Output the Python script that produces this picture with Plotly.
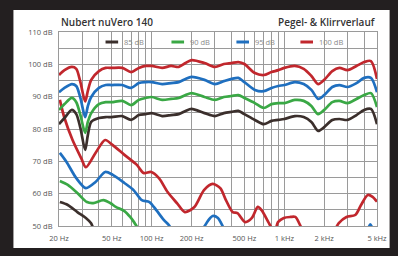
import plotly.graph_objects as go

# ---------------- data ----------------
freq = [20, 22, 25, 27, 29, 31.5, 33, 35, 40, 45, 50, 60, 70, 80, 90, 100, 120, 140, 160, 180,
        200, 250, 300, 350, 400, 450, 500, 600, 700, 800, 900, 1000, 1200, 1400, 1600, 1800,
        2000, 2300, 2600, 3000, 3500, 4000, 4500, 5000]

resp_100 = [96.7, 98.2, 99.2, 98.6, 94.5, 88.5, 91.8, 95.2, 97.9, 98.9, 98.9, 98.9, 97.6, 98.9, 99.5, 99.5, 98.9, 99.5, 99.2, 100.4,
            101.3, 100.4, 99.2, 100.1, 100.4, 100.7, 100.1, 97.3, 96.7, 97.6, 98.2, 98.9, 99.5, 98.6, 96.4, 93.9,
            95.2, 97.9, 98.9, 98.2, 99.5, 100.7, 101.0, 95.5]
resp_95 = [91.4, 92.7, 93.9, 93.3, 89.6, 83.7, 87.1, 89.9, 92.7, 93.6, 93.6, 93.6, 92.7, 94.2, 94.5, 94.5, 93.9, 94.2, 94.5, 95.5,
           96.1, 95.2, 93.9, 94.8, 95.5, 95.8, 94.5, 92.1, 91.7, 92.7, 93.3, 93.6, 94.5, 93.9, 92.1, 89.3,
           90.5, 93.0, 93.6, 93.0, 94.2, 95.8, 95.8, 91.4]
resp_90 = [85.9, 87.7, 89.6, 88.3, 84.3, 78.8, 82.2, 84.9, 87.7, 88.3, 88.3, 88.7, 87.4, 89.0, 89.6, 89.9, 89.0, 89.3, 89.6, 90.5,
           91.1, 89.9, 89.0, 89.9, 90.2, 90.5, 89.6, 88.0, 86.5, 87.7, 88.0, 88.0, 89.0, 88.7, 87.1, 84.6,
           85.9, 88.3, 88.7, 88.0, 89.3, 90.5, 91.1, 86.8]
resp_85 = [81.5, 83.4, 85.9, 84.6, 80.3, 73.5, 78.1, 82.2, 83.4, 83.7, 83.7, 84.0, 82.8, 84.3, 84.6, 84.9, 84.0, 84.3, 84.6, 85.6,
           86.2, 84.9, 84.0, 84.9, 85.3, 85.6, 84.6, 82.8, 81.5, 82.5, 82.8, 83.1, 84.0, 83.7, 82.2, 79.4,
           80.6, 82.8, 83.1, 82.8, 84.3, 85.9, 86.2, 81.5]

dist_100_f = [20.3, 22, 25.3, 29.4, 31.9, 37.7, 44.6, 50.9, 62.3, 77.3, 86.8, 99.2, 113.4, 131.8, 155.6, 177.8,
              210, 248, 288, 329, 363, 408, 443, 507, 570, 631, 674, 758, 797, 852, 896, 992, 1115, 1210,
              1315, 1429, 1800, 2181, 2575, 2944, 3427, 3790, 4262, 4632, 5000]
dist_100 = [89.0, 83.4, 76.6, 71.0, 68.2, 72.6, 76.6, 75.0, 72.0, 68.9, 66.4, 66.7, 64.8, 60.5, 57.0, 54.3,
            55.9, 61.1, 63.0, 61.7, 58.0, 54.3, 54.0, 51.2, 52.5, 55.9, 54.9, 51.2, 49.7, 48.8, 51.2, 52.5, 52.8, 52.8,
            50.3, 47.2, 44.0, 45.7, 50.9, 52.8, 53.4, 56.5, 59.6, 59.0, 57.5]

dist_95_f = [20.3, 22.8, 27.0, 31.9, 37.7, 44.6, 50.9, 62.3, 73.0, 84.2, 96.2, 108.3, 123.8, 134.7, 146.5,
             190, 230, 248, 268, 288, 316, 337, 361, 450, 1000, 3000, 4200, 4450, 4700]
dist_95 = [72.6, 69.8, 64.8, 61.7, 63.6, 66.7, 65.8, 63.3, 61.1, 58.0, 57.4, 54.9, 51.8, 50.3, 48.1,
           45.0, 48.1, 49.7, 51.8, 53.1, 52.5, 50.6, 48.1, 44.0, 42.0, 44.0, 48.5, 50.5, 48.5]

dist_90_f = [20.3, 23.3, 27.5, 32.5, 36.3, 43.2, 48.7, 53.6, 62.3, 68.8, 73.6, 80.1, 90]
dist_90 = [63.9, 62.7, 60.2, 57.4, 57.1, 58.0, 57.1, 55.9, 54.6, 52.8, 51.2, 48.8, 46.0]

dist_85_f = [20.3, 23.3, 27.5, 31.9, 34.8, 36.3, 40]
dist_85 = [57.4, 56.5, 54.3, 52.5, 50.9, 49.4, 47.0]

legend_names = ["85 dB", "90 dB", "95 dB", "100 dB"]
colors = ["#3b2f2c", "#3aa845", "#1f6fbf", "#c1272d"]

x_grid = [20, 30, 40, 50, 60, 70, 80, 90, 100, 200, 300, 400, 500, 600, 700, 800, 900,
          1000, 2000, 3000, 4000, 5000]
x_labels = {20: "20 Hz", 50: "50 Hz", 100: "100 Hz", 200: "200 Hz", 500: "500 Hz",
            1000: "1 kHz", 2000: "2 kHz", 5000: "5 kHz"}
y_grid = [50, 55, 60, 65, 70, 75, 80, 85, 90, 95, 100, 105, 110]
y_labels = {50: "50 dB", 60: "60 dB", 70: "70 dB", 80: "80 dB", 90: "90 dB", 100: "100 dB", 110: "110 dB"}

title_left = "Nubert nuVero 140"
title_right = "Pegel- & Klirrverlauf"

# ---------------- figure ----------------
FONT = "Open Sans"
fig = go.Figure()

series = [
    (dist_85_f, dist_85, 0), (dist_90_f, dist_90, 1), (dist_95_f, dist_95, 2), (dist_100_f, dist_100, 3),
    (freq, resp_85, 0), (freq, resp_90, 1), (freq, resp_95, 2), (freq, resp_100, 3),
]
for xs, ys, ci in series:
    fig.add_trace(go.Scatter(x=xs, y=ys, mode="lines",
                             line=dict(color=colors[ci], width=2.7, shape="spline", smoothing=0.8),
                             showlegend=False, hoverinfo="skip"))

W, H = 398, 256
L, R, T, B = 59, 11, 32, 30
pw, ph = W - L - R, H - T - B


def px(xp):
    return (xp - L) / pw


def py(yp):
    return (H - B - yp) / ph


shapes = [dict(type="rect", xref="paper", yref="paper", x0=px(12), x1=px(400), y0=py(248), y1=py(10),
               fillcolor="white", line=dict(width=0), layer="below")]
annotations = [
    dict(text=title_left, xref="paper", yref="paper", x=0, y=py(22), xanchor="left", yanchor="middle",
         showarrow=False, font=dict(family=FONT, size=10, color="#333333", weight=600)),
    dict(text=title_right, xref="paper", yref="paper", x=px(388), y=py(22), xanchor="right", yanchor="middle",
         showarrow=False, font=dict(family=FONT, size=10, color="#333333", weight=600)),
]
leg_x = [107, 175, 242, 308]
for i, name in enumerate(legend_names):
    shapes.append(dict(type="line", xref="paper", yref="paper", x0=px(leg_x[i]), x1=px(leg_x[i] + 13),
                       y0=py(42), y1=py(42), line=dict(color=colors[i], width=3), layer="above"))
    annotations.append(dict(text=name, xref="paper", yref="paper", x=px(leg_x[i] + 17), y=py(42),
                            xanchor="left", yanchor="middle", showarrow=False,
                            font=dict(family=FONT, size=7.5, color="#8a8a8a")))

GRID = "#9a9a9a"
fig.update_layout(
    width=W, height=H, margin=dict(l=L, r=R, t=T, b=B, pad=0),
    paper_bgcolor="#231f20", plot_bgcolor="white",
    shapes=shapes, annotations=annotations, showlegend=False,
)
fig.update_xaxes(type="log", range=[1.30103, 3.69897], tickmode="array", tickvals=x_grid,
                 ticktext=[x_labels.get(v, "") for v in x_grid],
                 showgrid=True, gridcolor=GRID, gridwidth=1, zeroline=False,
                 showline=True, mirror=True, linecolor=GRID, linewidth=1,
                 ticks="outside", ticklen=5, tickcolor="rgba(0,0,0,0)",
                 tickfont=dict(family=FONT, size=7.5, color="#555555"), fixedrange=True)
fig.update_yaxes(range=[50, 110], tickmode="array", tickvals=y_grid,
                 ticktext=[y_labels.get(v, "") for v in y_grid],
                 showgrid=True, gridcolor=GRID, gridwidth=1, zeroline=False,
                 showline=True, mirror=True, linecolor=GRID, linewidth=1,
                 ticks="outside", ticklen=4, tickcolor="rgba(0,0,0,0)",
                 tickfont=dict(family=FONT, size=7.5, color="#555555"), fixedrange=True)

fig.write_html("out.html", config=dict(displayModeBar=False),
               post_script="document.body.style.margin='0';document.body.style.overflow='hidden';")
